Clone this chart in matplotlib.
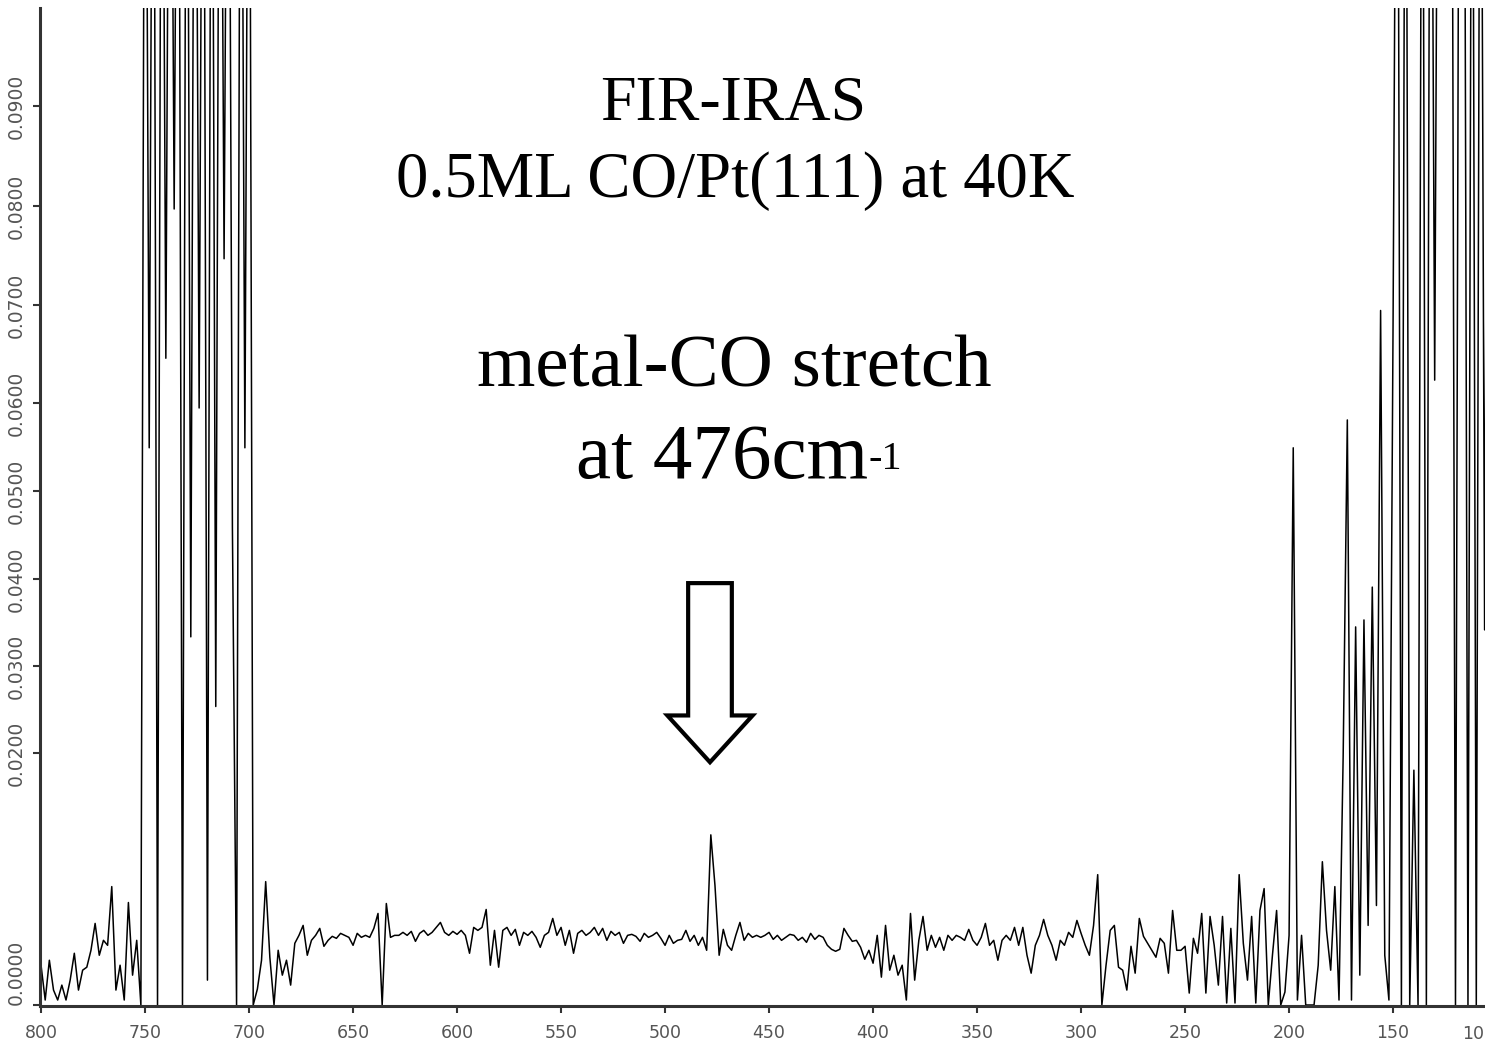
# FIR-IRAS 光谱图 (0.5ML CO/Pt(111), 40K)

import numpy as np
import matplotlib
matplotlib.use('Agg')
import matplotlib.pyplot as plt
from matplotlib.patches import FancyArrow

# 波数 (cm-1)，每 2 cm-1 一个点
wavenumber = np.arange(800, 103, -2)

# 吸光度，单位 1e-3；大于 100 的值超出坐标范围
seg_800_752 = [4.0, 0.5, 4.5, 1.5, 0.5, 2.0, 0.5, 2.5, 5.2, 1.5, 3.5, 3.8, 5.5,
               8.2, 5.0, 6.5, 6.0, 11.9, 1.5, 4.0, 0.5, 10.3, 3.0, 6.5, 0.0]
seg_750_698 = [150, 56, 150, 0, 150, 65, 150, 80, 150, 0, 150, 37, 150, 60,
               150, 2.5, 150, 30, 150, 75, 150, 48, 0, 150, 56, 150, 0]
seg_696_630 = [1.6, 4.5, 12.4, 4.8, 0.0, 5.5, 3.0, 4.5, 2.0, 6.2, 7.0, 8.0,
               5.0, 6.5, 7.0, 7.7, 5.9, 6.5, 6.9, 6.7, 7.2, 7.0, 6.8, 6.0,
               7.2, 6.8, 7.0, 6.8, 7.7, 9.2, 0.0, 10.2, 6.8, 7.0]
seg_628_456 = [7.0, 7.3, 7.0, 7.4, 6.4, 7.2, 7.5, 7.0, 7.3, 7.8, 8.3, 7.3,
               7.0, 7.4, 7.1, 7.5, 7.0, 5.2, 7.8, 7.5, 7.8, 9.6, 4.0, 7.5,
               3.8, 7.5, 7.8, 7.0, 7.6, 6.0, 7.3, 7.0, 7.4, 6.8, 5.8, 7.0,
               7.3, 8.7, 7.0, 7.8, 6.0, 7.5, 5.2, 7.2, 7.5, 7.0, 7.3, 7.8,
               7.0, 7.7, 6.5, 7.4, 7.0, 7.3, 6.2, 7.0, 7.1, 6.9, 6.4, 7.2,
               6.8, 7.0, 7.3, 6.7, 6.0, 7.0, 6.2, 6.5, 6.6, 7.5, 6.4, 7.0,
               6.0, 6.8, 5.5, 17.1, 12.0, 5.0, 7.6, 6.0, 5.5, 7.0, 8.3, 6.5,
               7.2, 6.8, 7.0]
seg_454_282 = [6.8, 7.0, 7.3, 6.6, 7.0, 6.5, 6.8, 7.1, 7.0, 6.5, 6.8, 6.3,
               7.2, 6.6, 7.0, 6.8, 6.0, 5.6, 5.4, 5.6, 7.7, 7.0, 6.4, 6.5,
               5.8, 4.6, 5.5, 4.2, 7.0, 2.8, 8.0, 3.5, 5.0, 3.0, 4.0, 0.5,
               9.2, 2.5, 6.5, 8.9, 5.5, 7.0, 5.8, 6.8, 5.5, 7.0, 6.5, 7.0,
               6.8, 6.5, 7.6, 6.5, 6.0, 6.8, 8.2, 6.0, 6.5, 4.5, 6.5, 7.0,
               6.5, 7.8, 6.0, 7.8, 5.0, 3.2, 6.0, 7.0, 8.6, 7.0, 6.0, 4.5,
               6.5, 6.0, 7.3, 6.8, 8.5, 7.2, 6.0, 5.0, 8.0, 13.1, 0.0, 4.0,
               7.5, 8.0, 3.8]
seg_280_200 = [3.5, 1.5, 5.9, 3.2, 8.7, 6.9, 6.2, 5.5, 4.8, 6.7, 6.2, 3.2,
               9.5, 5.5, 5.5, 5.9, 1.2, 6.7, 5.2, 9.2, 1.2, 8.9, 6.0, 2.0,
               8.9, 0.2, 7.7, 0.2, 13.1, 6.2, 2.5, 8.9, 0.2, 9.5, 11.7, 0.0,
               5.0, 9.5, 0.0, 1.3, 7.0]
seg_198_104 = [56, 0.5, 7.0, 0.0, 0.0, 0.0, 4.0, 14.4, 7.5, 3.5, 11.9, 0.5,
               25, 58.8, 0.5, 38, 3.0, 38.7, 8.0, 42, 10, 69.8, 5.0, 0.5,
               68.8, 150, 0, 150, 0, 23.6, 0, 150, 0, 150, 62.8, 150,
               150, 150, 150, 0, 150, 150, 0, 150, 0, 150, 37.7, 150]

absorb = np.concatenate([seg_800_752, seg_750_698, seg_696_630, seg_628_456,
                         seg_454_282, seg_280_200, seg_198_104]) / 1000.0

# 纵轴刻度（原图刻度间距不均匀）
ytick_pos = [0.0, 25.33, 34.07, 42.81, 51.66, 60.5, 70.35, 80.3, 90.35]
ytick_labels = ['0.0000', '0.0200', '0.0300', '0.0400', '0.0500',
                '0.0600', '0.0700', '0.0800', '0.0900']
xtick_pos = [800, 750, 700, 650, 600, 550, 500, 450, 400, 350, 300, 250, 200, 150, 100]

if __name__ == '__main__':
    W, H = 1485, 1042
    fig = plt.figure(figsize=(W / 100, H / 100), dpi=100)
    ax = fig.add_axes([40 / W, 1 - 1006 / H, 1460 / W, 998 / H])

    ax.plot(wavenumber, absorb, color='black', linewidth=1.1)
    ax.set_xlim(800.5, 98.6)
    ax.set_ylim(-0.0001, 0.1002)

    ax.set_xticks(xtick_pos)
    # 最右边的 "100" 在原图中略向左，只露出一部分，单独画
    ax.set_xticklabels([str(v) for v in xtick_pos[:-1]] + [''])
    ax.annotate(str(xtick_pos[-1]), xy=(xtick_pos[-1], 0),
                xycoords=('data', 'axes fraction'), xytext=(-13, -13.5),
                textcoords='offset points', ha='center', va='top',
                fontsize=12.5, color='#555555', annotation_clip=False)
    ax.set_yticks([v / 1000 for v in ytick_pos])
    ax.set_yticklabels(ytick_labels, rotation=90, va='center')
    ax.get_yticklabels()[0].set_va('bottom')

    for s in ['top', 'right']:
        ax.spines[s].set_visible(False)
    for s in ['left', 'bottom']:
        ax.spines[s].set_linewidth(2.2)
        ax.spines[s].set_color('#333333')
    ax.tick_params(axis='both', direction='out', length=5, width=1.5,
                   color='#333333', labelcolor='#555555')
    ax.tick_params(axis='x', labelsize=12.5, pad=8)
    ax.tick_params(axis='y', labelsize=13.5, pad=5)

    serif = ['Liberation Serif', 'DejaVu Serif']
    fig.text(733 / W, 1 - 120 / H, 'FIR-IRAS', ha='center', va='baseline',
             fontsize=46, family=serif)
    fig.text(735 / W, 1 - 197 / H, '0.5ML CO/Pt(111) at 40K', ha='center',
             va='baseline', fontsize=46.5, family=serif)
    fig.text(734 / W, 1 - 386 / H, 'metal-CO stretch', ha='center',
             va='baseline', fontsize=54, family=serif)
    fig.text(868 / W, 1 - 478 / H, 'at 476cm', ha='right', va='baseline',
             fontsize=57, family=serif)
    fig.text(869 / W, 1 - 469 / H, '-1', ha='left', va='baseline',
             fontsize=29, family=serif)

    # 空心向下箭头
    arrow = FancyArrow(478.4, 0.0424, 0, -0.0180, width=21.0, head_width=41.0,
                       head_length=0.0047, length_includes_head=True,
                       facecolor='white', edgecolor='black', linewidth=3)
    ax.add_patch(arrow)

    fig.savefig('out.png', dpi=100)
